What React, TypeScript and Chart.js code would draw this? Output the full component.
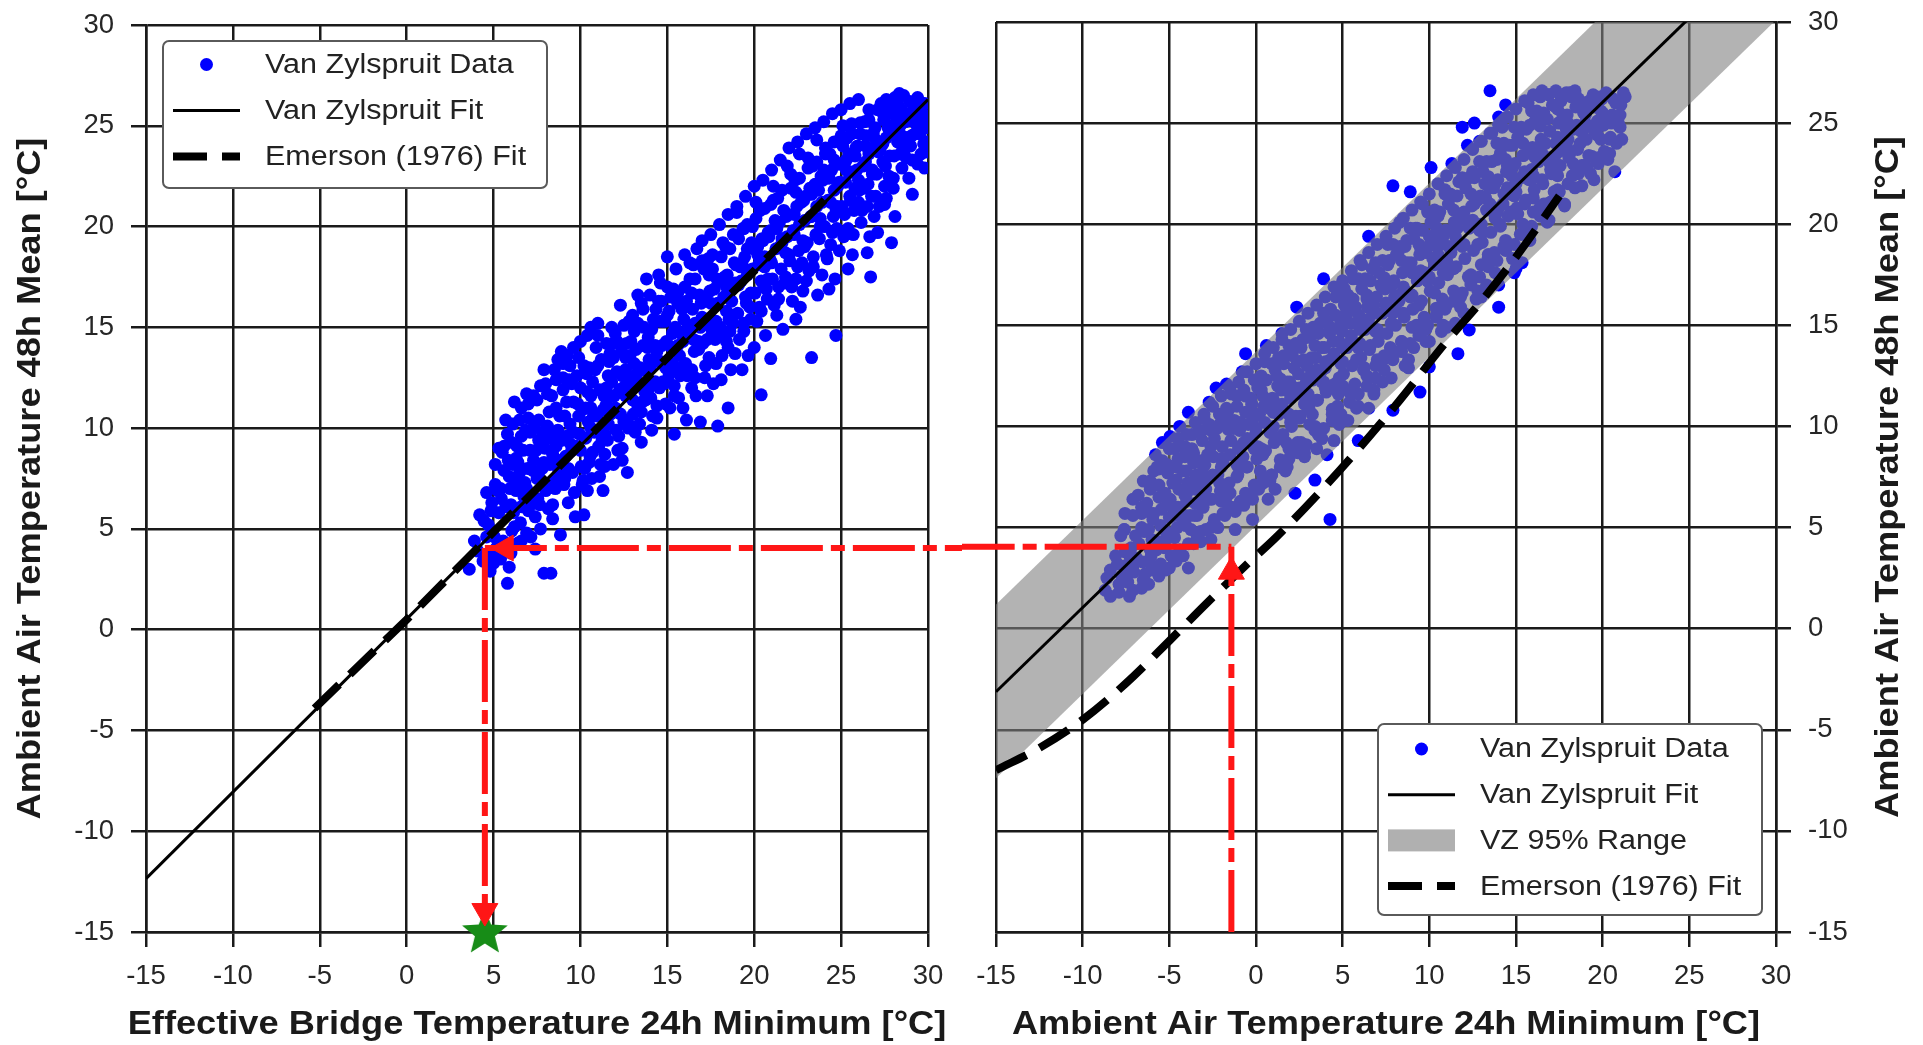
import { useEffect, useRef } from 'react';
import { Chart, registerables } from 'chart.js';

Chart.register(...registerables);

const FONT = '"Liberation Sans", Arial, Helvetica, sans-serif';
const INK = '#1a1a1a';
const TICK_INK = '#262626';
const DATA_BLUE = '#0000ff';
const TRACE_RED = '#ff1616';
const STAR_GREEN = '#178c17';
const BAND_FILL = 'rgba(128, 128, 128, 0.6)';
const BAND_SWATCH = '#b0b0b0';

const AXIS_MIN = -15;
const AXIS_MAX = 30;
const AXIS_STEP = 5;

const LEFT_X_TITLE = 'Effective Bridge Temperature 24h Minimum [°C]';
const RIGHT_X_TITLE = 'Ambient Air Temperature 24h Minimum [°C]';
const Y_TITLE = 'Ambient Air Temperature 48h Mean [°C]';

const LEGEND_DATA = 'Van Zylspruit Data';
const LEGEND_FIT = 'Van Zylspruit Fit';
const LEGEND_BAND = 'VZ 95% Range';
const LEGEND_EMERSON = 'Emerson (1976) Fit';

type Pt = [number, number];

// Van Zylspruit: effective bridge temperature 24h min vs ambient 48h mean
const leftPoints: Pt[] = [
  [3.6, 3.0], [3.9, 4.4], [4.2, 5.7], [4.4, 3.4], [4.1, 3.9], [4.6, 4.6],
  [4.7, 5.2], [4.9, 6.3], [5.1, 8.2], [5.2, 4.1], [5.0, 3.3], [5.4, 7.0], [5.3, 5.8], [4.8, 2.9],
  [5.6, 9.1], [5.8, 9.7], [5.9, 7.6], [6.0, 6.2], [6.2, 5.1], [5.8, 2.3], [5.9, 3.1], [6.3, 8.5], [6.1, 10.2], [6.4, 4.3], [6.0, 3.8],
  [6.6, 11.0], [6.7, 8.9], [6.8, 7.3], [7.0, 5.9], [7.1, 9.8], [7.2, 6.6], [6.9, 4.8], [7.4, 4.0], [7.3, 11.6], [7.0, 10.5], [6.6, 6.1],
  [7.7, 12.1], [7.9, 12.9], [7.6, 9.4], [7.8, 8.0], [8.0, 6.9], [8.2, 10.8], [8.3, 2.8], [7.9, 2.8], [8.4, 5.5], [8.1, 11.7], [8.4, 8.7], [7.7, 5.0],
  [8.6, 12.4], [8.85, 4.7], [8.7, 9.9], [9.0, 13.2], [9.1, 7.5], [9.2, 11.3], [9.3, 6.3], [9.4, 10.2], [8.9, 8.4], [9.24, 13.6], [9.5, 8.9], [9.0, 11.9],
  [9.7, 5.6], [9.8, 12.6], [10.0, 14.3], [10.2, 5.7], [10.1, 7.2], [10.3, 9.5], [10.4, 11.8], [9.9, 10.6], [10.2, 13.1], [10.5, 8.3], [9.6, 14.0], [10.0, 8.9], [10.4, 6.9],
  [10.7, 12.3], [11.0, 14.6], [10.8, 9.8], [11.1, 7.6], [11.3, 10.9], [11.2, 13.4], [11.4, 8.7], [10.6, 11.0], [11.5, 12.0], [11.0, 15.2], [11.3, 6.9],
  [11.9, 8.2], [12.3, 16.1], [11.7, 13.7], [12.0, 11.0], [12.2, 9.6], [12.4, 12.6], [11.8, 15.0], [12.5, 10.3], [12.1, 14.3], [12.4, 8.4], [11.6, 10.2],
  [12.7, 7.8], [13.0, 11.4], [13.2, 13.9], [13.5, 9.3], [12.8, 15.3], [13.4, 12.2], [13.3, 16.6], [12.9, 10.1], [13.1, 14.8], [13.5, 10.8], [12.6, 12.9],
  [13.8, 17.4], [13.7, 11.8], [14.0, 13.0], [14.2, 15.4], [14.4, 10.5], [13.9, 14.5], [14.3, 12.3], [14.5, 16.3], [14.1, 9.9], [13.6, 15.9], [14.4, 13.8],
  [15.0, 18.5], [14.7, 14.1], [15.1, 12.7], [15.4, 9.7], [15.2, 16.5], [14.9, 11.2], [15.5, 14.9], [15.3, 13.2], [14.6, 17.2], [15.0, 15.6], [15.4, 11.6],
  [15.7, 13.6], [16.0, 17.0], [16.2, 15.1], [16.4, 12.0], [15.9, 11.0], [16.3, 18.2], [15.6, 16.2], [16.5, 14.4], [16.1, 10.4], [16.4, 16.7], [15.8, 14.7],
  [16.7, 18.9], [16.9, 10.3], [17.0, 15.5], [17.2, 13.1], [17.4, 17.6], [16.6, 12.5], [17.1, 16.4], [17.3, 11.6], [16.8, 14.3], [17.5, 15.0], [17.0, 18.3],
  [17.9, 10.1], [18.5, 11.0], [17.7, 16.9], [18.0, 14.6], [18.2, 19.2], [18.4, 15.8], [17.8, 13.2], [18.3, 17.5], [18.1, 12.4], [17.6, 18.6], [18.5, 14.0],
  [19.0, 20.7], [18.7, 16.3], [18.9, 13.7], [19.2, 18.0], [19.4, 15.2], [18.8, 19.6], [19.3, 12.9], [19.1, 17.1], [19.5, 16.5], [18.6, 14.8], [19.4, 19.9],
  [20.0, 14.0], [20.4, 11.65], [19.7, 17.8], [19.9, 20.0], [20.2, 18.6], [20.3, 16.0], [19.8, 15.4], [20.1, 21.2], [20.5, 19.3], [19.6, 18.9], [20.4, 17.3],
  [20.96, 21.1], [20.95, 13.45], [20.7, 16.9], [21.0, 18.2], [21.2, 20.3], [21.4, 17.0], [20.8, 19.7], [21.3, 15.6], [21.1, 22.0], [21.5, 19.0], [20.6, 18.0],
  [21.9, 23.0], [21.7, 20.8], [22.0, 18.6], [22.2, 16.3], [22.4, 21.7], [21.8, 17.5], [22.3, 19.6], [22.1, 22.6], [22.5, 18.0], [21.6, 19.2], [22.4, 15.4],
  [23.3, 13.5], [22.7, 21.2], [22.9, 19.0], [23.1, 23.4], [23.3, 20.5], [23.0, 17.3], [23.5, 22.1], [22.6, 23.6], [23.4, 18.5], [22.8, 16.8], [23.2, 21.9],
  [23.6, 24.3], [24.7, 14.6], [23.8, 20.0], [24.0, 22.8], [24.2, 18.4], [24.4, 21.2], [23.9, 17.6], [24.1, 23.9], [24.5, 19.7], [23.7, 21.8], [24.3, 16.9],
  [25.4, 17.9], [24.8, 22.0], [25.0, 24.5], [25.2, 20.6], [24.6, 23.3], [25.3, 22.8], [24.9, 18.8], [25.5, 21.5], [25.1, 25.0], [24.7, 20.9],
  [26.1, 25.15], [25.7, 19.6], [26.0, 22.3], [26.2, 20.8], [26.4, 24.0], [25.8, 23.5], [26.3, 21.9], [26.5, 18.7], [25.6, 24.6], [26.0, 21.2],
  [26.7, 17.5], [27.3, 26.1], [26.8, 22.6], [27.0, 24.3], [27.2, 21.0], [27.4, 23.2], [26.6, 25.3], [27.1, 19.7], [26.9, 23.9], [27.5, 22.0],
  [27.9, 19.2], [28.35, 26.6], [27.7, 24.9], [28.0, 22.4], [28.2, 25.4], [28.4, 23.6], [27.6, 21.4], [28.1, 20.5], [28.5, 24.5], [27.8, 26.0],
  [28.9, 22.4], [29.4, 26.4], [28.7, 25.2], [29.0, 24.0], [29.2, 25.9], [29.4, 23.1], [28.6, 23.7], [29.1, 21.6], [29.5, 24.8],
  [29.9, 24.2], [29.7, 25.6], [29.8, 22.9], [30.0, 24.9], [29.6, 26.0],
  [6.3, 6.9], [6.5, 7.8], [7.5, 7.5], [7.3, 8.4], [8.5, 7.4], [8.6, 9.1], [8.2, 9.5], [9.6, 9.8], [9.3, 8.0],
  [10.6, 10.0], [10.3, 11.0], [10.7, 8.8], [11.6, 11.5], [11.4, 9.7], [11.8, 12.3], [12.6, 11.6], [12.3, 10.7], [12.8, 12.2],
  [13.6, 12.9], [13.3, 11.1], [13.9, 11.9], [14.6, 13.3], [14.8, 12.2], [14.3, 14.1], [15.6, 14.1], [15.8, 13.0], [15.3, 14.7],
  [16.6, 15.2], [16.8, 13.9], [16.3, 14.9], [17.5, 16.2], [17.8, 15.3], [17.3, 14.4], [18.6, 16.9], [18.8, 15.6], [18.4, 17.0],
  [19.6, 17.6], [19.8, 16.7], [19.3, 18.2], [20.6, 18.5], [20.8, 17.4], [20.2, 19.0], [21.6, 19.4], [21.8, 18.7], [21.3, 19.9],
  [22.6, 20.1], [22.8, 19.3], [22.3, 20.6], [23.6, 21.0], [23.8, 20.4], [23.3, 21.6], [24.6, 21.8], [24.8, 21.0], [24.3, 22.4],
  [25.6, 22.7], [25.8, 21.9], [25.3, 23.3], [26.6, 23.6], [26.8, 22.8], [27.6, 24.4], [27.8, 23.5], [28.6, 25.3], [28.8, 24.4],
  [29.6, 25.0], [29.3, 26.0],
  [4.55, 3.6], [4.45, 5.4], [4.6, 6.8], [5.05, 4.6], [4.95, 5.9], [5.1, 7.2], [5.0, 3.9],
  [5.55, 4.4], [5.45, 6.5], [5.6, 7.9], [5.5, 8.8], [5.4, 3.5], [6.05, 4.9], [5.95, 7.0], [6.1, 8.2], [6.0, 9.3], [6.15, 5.8],
  [6.55, 5.3], [6.45, 7.3], [6.6, 9.6], [6.5, 10.4], [6.4, 8.3], [6.6, 4.4], [7.05, 6.1], [6.95, 8.0], [7.1, 8.9], [7.0, 11.2], [6.9, 7.0], [7.15, 4.6],
  [7.55, 6.5], [7.45, 8.9], [7.6, 10.4], [7.5, 11.4], [7.4, 5.6], [7.6, 7.6], [8.05, 7.0], [7.95, 9.0], [8.1, 10.1], [8.0, 12.2], [8.15, 6.0], [7.9, 8.3],
  [8.55, 7.0], [8.45, 9.7], [8.6, 11.0], [8.5, 12.9], [8.4, 6.2], [8.65, 8.4], [9.05, 7.2], [8.95, 9.4], [9.1, 10.6], [9.0, 12.5], [9.15, 8.6], [8.9, 13.8],
  [9.55, 7.8], [9.45, 9.2], [9.6, 11.3], [9.5, 12.2], [9.4, 13.1], [9.65, 6.8], [10.05, 8.1], [9.95, 9.7], [10.1, 10.9], [10.0, 12.0], [10.15, 7.4], [9.9, 13.5],
  [10.55, 8.6], [10.45, 10.3], [10.6, 11.6], [10.5, 13.0], [10.4, 14.6], [10.65, 7.5], [11.05, 9.1], [10.95, 10.6], [11.1, 11.9], [11.0, 13.1], [11.15, 8.2], [10.9, 14.0],
  [11.55, 9.4], [11.45, 11.1], [11.6, 12.6], [11.5, 14.2], [11.4, 8.1], [11.65, 13.3], [12.05, 9.9], [11.95, 11.6], [12.1, 12.8], [12.0, 14.7], [12.15, 8.9], [11.9, 13.5],
  [12.55, 10.4], [12.45, 12.0], [12.6, 13.5], [12.5, 15.1], [12.4, 9.0], [12.65, 14.2], [13.05, 10.7], [12.95, 12.5], [13.1, 13.2], [13.0, 15.6], [13.15, 9.8], [12.9, 14.3],
  [13.55, 11.3], [13.45, 13.0], [13.6, 14.1], [13.5, 16.2], [13.4, 10.2], [13.65, 15.0], [14.05, 11.5], [13.95, 13.4], [14.1, 14.9], [14.0, 16.6], [14.15, 10.6], [13.9, 12.2],
  [14.55, 12.0], [14.45, 14.0], [14.6, 15.3], [14.5, 17.6], [14.4, 11.1], [14.65, 16.3], [15.05, 12.4], [14.95, 14.3], [15.1, 15.8], [15.0, 17.0], [15.15, 11.0], [14.9, 13.0],
  [15.55, 12.8], [15.45, 15.0], [15.6, 16.7], [15.5, 17.9], [15.4, 12.1], [15.65, 11.5], [16.05, 13.2], [15.95, 15.4], [16.1, 16.3], [16.0, 18.6], [16.15, 12.6], [15.9, 14.3],
  [16.55, 13.8], [16.45, 15.9], [16.6, 17.4], [16.5, 18.1], [16.4, 12.9], [16.65, 11.6], [17.05, 14.2], [16.95, 16.2], [17.1, 17.9], [17.0, 19.3], [17.15, 12.5], [16.9, 15.0],
  [17.55, 14.6], [17.45, 16.8], [17.6, 17.9], [17.5, 19.6], [17.4, 13.5], [17.65, 12.2], [18.05, 15.0], [17.95, 17.3], [18.1, 18.5], [18.0, 20.1], [18.15, 13.6], [17.9, 16.2],
  [18.55, 15.4], [18.45, 17.6], [18.6, 18.9], [18.5, 20.6], [18.4, 14.3], [18.65, 12.9], [19.05, 15.7], [18.95, 18.1], [19.1, 19.4], [19.0, 21.0], [19.15, 14.4], [18.9, 17.2],
  [19.55, 16.2], [19.45, 18.5], [19.6, 20.1], [19.5, 21.5], [19.4, 14.8], [19.65, 13.6], [20.05, 16.7], [19.95, 18.9], [20.1, 20.4], [20.0, 22.0], [20.15, 15.3], [19.9, 17.9],
  [20.55, 17.0], [20.45, 19.4], [20.6, 20.9], [20.5, 22.3], [20.4, 15.8], [20.65, 14.6], [21.05, 17.4], [20.95, 19.8], [21.1, 21.3], [21.0, 22.8], [21.15, 16.1], [20.9, 18.4],
  [21.55, 17.9], [21.45, 20.2], [21.6, 21.8], [21.5, 23.3], [21.4, 16.4], [21.65, 14.9], [22.05, 18.3], [21.95, 20.6], [22.1, 21.9], [22.0, 23.9], [22.15, 17.0], [21.9, 19.5],
  [22.55, 18.8], [22.45, 21.0], [22.6, 22.4], [22.5, 24.2], [22.4, 17.4], [22.65, 16.0], [23.05, 19.2], [22.95, 21.5], [23.1, 22.9], [23.0, 24.6], [23.15, 17.8], [22.9, 20.3],
  [23.55, 19.6], [23.45, 22.0], [23.6, 23.2], [23.5, 24.9], [23.4, 18.0], [23.65, 16.6], [24.05, 20.0], [23.95, 22.3], [24.1, 23.6], [24.0, 25.2], [24.15, 18.6], [23.9, 21.2],
  [24.55, 20.5], [24.45, 22.8], [24.6, 24.2], [24.5, 25.6], [24.4, 19.1], [24.65, 17.4], [25.05, 21.0], [24.95, 23.1], [25.1, 24.0], [25.0, 25.8], [25.15, 19.5], [24.9, 22.2],
  [25.55, 21.3], [25.45, 23.6], [25.6, 25.1], [25.5, 26.1], [25.4, 19.9], [25.65, 18.6], [26.05, 21.8], [25.95, 24.0], [26.1, 24.6], [26.0, 26.3], [26.15, 20.2], [25.9, 22.8],
  [26.55, 22.1], [26.45, 24.5], [26.6, 25.8], [26.5, 21.0], [26.4, 23.2], [26.65, 19.5], [27.05, 22.6], [26.95, 24.9], [27.1, 25.8], [27.0, 21.5], [27.15, 23.7], [26.9, 20.5],
  [27.55, 23.0], [27.45, 25.3], [27.6, 26.3], [27.5, 21.1], [27.4, 24.1], [28.05, 23.5], [27.95, 25.6], [28.1, 26.4], [28.0, 21.9], [28.15, 24.6],
  [28.55, 23.9], [28.45, 25.8], [28.6, 26.5], [28.5, 22.9], [28.4, 25.0], [29.05, 24.5], [28.95, 26.2], [29.1, 23.3], [29.0, 25.4],
  [29.55, 24.6], [29.45, 25.6], [29.6, 23.6], [29.5, 26.2], [29.9, 25.2], [29.95, 23.7],
  [4.85, 5.9], [5.25, 6.9], [5.7, 6.1], [5.85, 8.4], [6.25, 7.4], [6.35, 9.1], [6.75, 6.6], [6.85, 9.9], [7.25, 7.9], [7.35, 10.1],
  [7.65, 6.2], [7.8, 9.8], [8.25, 8.2], [8.35, 11.6], [8.75, 7.9], [8.8, 10.6], [9.2, 9.6], [9.35, 12.4], [9.75, 9.1], [9.85, 11.2],
  [10.25, 8.0], [10.35, 12.7], [10.75, 10.6], [10.85, 12.9], [11.25, 9.4], [11.35, 11.6], [11.75, 10.7], [11.85, 14.2], [12.25, 11.9], [12.35, 13.8],
  [12.75, 10.0], [12.85, 13.6], [13.25, 12.7], [13.3, 15.2], [13.75, 11.4], [13.85, 14.0], [14.25, 13.3], [14.35, 15.9], [14.75, 12.3], [14.85, 15.3],
  [15.25, 14.0], [15.35, 16.9], [15.75, 12.6], [15.85, 15.9], [16.25, 14.5], [16.3, 17.4], [16.75, 14.0], [16.85, 16.6], [17.25, 15.4], [17.35, 18.4],
  [17.75, 14.4], [17.85, 17.4], [18.25, 16.5], [18.35, 19.0], [18.75, 15.2], [18.85, 18.2], [19.25, 17.3], [19.35, 19.9], [19.75, 16.0], [19.85, 19.2],
  [20.25, 18.1], [20.35, 20.8], [20.75, 16.4], [20.85, 19.5], [21.25, 18.9], [21.35, 21.4], [21.75, 17.2], [21.85, 20.5], [22.25, 19.8], [22.35, 22.3],
  [22.75, 18.2], [22.85, 21.3], [23.25, 20.5], [23.35, 23.0], [23.75, 19.4], [23.85, 22.5], [24.25, 21.3], [24.35, 23.6], [24.75, 19.9], [24.85, 23.1],
  [25.25, 22.2], [25.35, 24.4], [25.75, 20.8], [25.85, 23.9], [26.25, 23.0], [26.35, 25.2], [26.75, 21.5], [26.85, 24.6], [27.25, 23.8], [27.35, 25.7],
  [27.75, 22.5], [27.85, 25.0], [28.25, 24.2], [28.3, 26.0], [28.75, 23.4], [28.85, 25.6], [29.25, 24.6], [29.3, 25.1], [29.75, 24.1], [29.8, 26.1],
  [5.3, 9.0], [5.7, 10.4], [6.2, 11.3], [6.9, 11.7], [8.7, 13.4], [10.6, 15.0],
];

// Van Zylspruit: ambient 24h min vs ambient 48h mean
const rightPoints: Pt[] = [
  [-8.7, 1.9], [-8.4, 1.6], [-8.4, 2.9], [-8.1, 3.6], [-8.6, 2.5],
  [-7.9, 2.2], [-7.6, 3.1], [-7.4, 2.3], [-7.56, 5.7], [-7.2, 4.0], [-7.8, 4.6], [-7.1, 1.9],
  [-6.9, 3.5], [-6.6, 5.0], [-6.4, 2.7], [-6.1, 3.2], [-6.3, 6.2], [-6.8, 6.6], [-6.0, 4.4], [-6.5, 7.3],
  [-5.9, 5.7], [-5.6, 7.9], [-5.3, 4.0], [-5.1, 6.1], [-5.8, 8.6], [-5.4, 9.2], [-5.0, 3.0], [-4.96, 9.5], [-5.5, 5.1],
  [-4.8, 7.2], [-4.5, 8.4], [-4.2, 5.3], [-4.4, 10.0], [-4.1, 6.6], [-4.7, 4.5], [-4.3, 9.0], [-4.0, 7.8], [-4.6, 6.0],
  [-3.9, 10.7], [-3.9, 3.0], [-3.7, 8.9], [-3.5, 6.2], [-3.3, 9.8], [-3.2, 4.8], [-3.6, 7.3], [-3.0, 10.4], [-3.4, 5.6], [-3.1, 8.1],
  [-2.9, 6.9], [-2.7, 11.2], [-2.5, 5.1], [-2.4, 9.4], [-2.2, 7.6], [-2.8, 8.6], [-2.1, 10.6], [-2.6, 4.4], [-2.0, 6.3], [-2.3, 11.9],
  [-1.9, 8.2], [-1.7, 12.1], [-1.5, 6.7], [-1.3, 9.9], [-1.2, 4.9], [-1.6, 10.8], [-1.1, 7.5], [-1.8, 5.6], [-1.4, 11.6], [-1.0, 8.9],
  [-0.6, 13.6], [-0.9, 10.2], [-0.7, 6.1], [-0.5, 8.0], [-0.3, 11.4], [-0.2, 5.4], [-0.8, 12.7], [-0.4, 9.3], [-0.1, 7.1], [0.0, 12.3],
  [0.2, 10.6], [0.4, 8.6], [0.5, 13.2], [0.7, 6.4], [0.3, 11.8], [0.8, 9.7], [0.6, 14.0], [0.9, 7.6], [0.1, 9.0], [1.0, 11.3],
  [1.2, 12.5], [1.4, 9.4], [1.5, 14.6], [1.7, 7.8], [1.3, 10.9], [1.8, 11.8], [1.6, 13.5], [1.9, 8.9], [1.1, 6.9], [2.0, 10.2],
  [2.35, 15.9], [2.25, 6.7], [2.2, 12.9], [2.5, 10.4], [2.7, 14.3], [2.8, 8.5], [2.4, 11.6], [2.9, 12.2], [2.6, 9.2], [2.1, 13.8], [3.0, 10.9],
  [3.4, 7.35], [3.9, 17.3], [3.2, 13.4], [3.5, 11.3], [3.7, 15.1], [3.6, 9.6], [3.3, 12.3], [3.8, 13.9], [3.1, 10.1], [4.0, 11.9], [3.5, 16.0],
  [4.27, 5.4], [4.2, 14.7], [4.4, 10.6], [4.6, 16.4], [4.8, 12.4], [4.5, 9.3], [4.3, 13.3], [4.9, 15.2], [4.7, 11.0], [5.0, 13.9], [4.1, 8.6],
  [5.9, 9.3], [5.2, 15.6], [5.4, 11.7], [5.6, 17.3], [5.8, 13.3], [5.3, 10.3], [5.5, 14.5], [5.7, 12.1], [5.1, 16.8], [6.0, 15.0], [5.9, 11.0],
  [6.5, 19.4], [6.2, 12.8], [6.4, 16.3], [6.6, 14.0], [6.8, 11.6], [6.3, 15.2], [6.7, 17.8], [6.9, 13.0], [6.1, 18.0], [7.0, 15.6], [6.5, 10.9],
  [7.9, 21.9], [7.9, 10.8], [7.2, 17.0], [7.4, 13.5], [7.6, 19.0], [7.8, 15.1], [7.3, 12.2], [7.5, 16.1], [7.7, 18.2], [7.1, 14.6], [8.0, 13.7],
  [8.9, 21.6], [8.2, 18.6], [8.4, 14.2], [8.6, 16.7], [8.8, 12.9], [8.3, 20.1], [8.5, 15.6], [8.7, 19.2], [8.1, 16.4], [9.0, 17.6], [8.6, 13.0],
  [9.46, 11.7], [9.2, 19.8], [9.4, 16.0], [9.6, 21.0], [9.8, 14.8], [9.3, 17.6], [9.5, 18.8], [9.7, 15.4], [9.1, 13.9], [10.0, 19.4], [9.9, 17.2],
  [10.1, 22.8], [10.0, 12.95], [10.3, 16.6], [10.5, 20.4], [10.7, 14.7], [10.2, 18.3], [10.9, 21.7], [10.4, 15.5], [10.6, 19.0], [10.8, 17.6], [11.0, 16.0],
  [11.9, 24.8], [11.65, 13.6], [11.2, 21.5], [11.4, 17.8], [11.6, 19.8], [11.8, 16.4], [11.3, 23.0], [11.5, 15.1], [11.7, 22.1], [11.1, 18.9], [12.0, 20.6],
  [12.3, 14.77], [12.2, 23.9], [12.4, 17.1], [12.6, 21.0], [12.8, 19.0], [12.5, 22.6], [12.7, 16.3], [12.9, 24.1], [12.1, 20.2], [13.0, 18.0], [12.6, 25.0],
  [13.5, 26.6], [14.0, 15.9], [13.2, 22.0], [13.4, 18.5], [13.6, 24.5], [13.8, 20.3], [13.3, 17.0], [13.7, 21.8], [13.9, 23.2], [13.1, 19.6], [14.0, 25.3],
  [14.3, 18.9], [14.5, 22.9], [14.7, 20.6], [14.2, 24.8], [14.9, 17.6], [14.4, 25.9], [14.6, 21.5], [14.8, 23.9], [14.1, 19.9], [15.0, 22.0],
  [15.35, 18.1], [15.2, 24.6], [15.5, 21.0], [15.7, 26.0], [15.9, 22.7], [15.4, 23.4], [15.6, 19.5], [15.8, 24.9], [15.1, 20.5], [16.0, 21.3],
  [16.2, 25.6], [16.5, 22.2], [16.7, 24.0], [16.9, 20.2], [16.4, 26.3], [16.6, 21.0], [16.8, 25.2], [16.1, 23.3], [17.0, 22.7],
  [17.3, 26.6], [17.5, 23.6], [17.7, 25.4], [17.2, 21.6], [17.9, 24.3], [17.4, 22.4], [17.6, 26.1], [17.8, 20.9], [18.0, 25.0],
  [18.3, 24.7], [18.6, 26.2], [18.8, 22.9], [18.4, 21.8], [18.9, 25.5], [18.1, 23.5], [18.7, 24.0],
  [19.2, 23.4], [19.4, 25.9], [19.7, 24.4], [19.5, 22.2], [19.9, 26.3], [19.1, 24.9], [19.8, 23.3],
  [20.5, 25.0], [20.2, 26.5], [20.8, 24.0], [21.2, 26.5], [20.4, 23.5], [21.0, 25.4], [21.3, 26.3], [20.7, 22.6],
  [-6.2, 4.9], [-5.0, 5.5], [-5.2, 4.8], [-4.0, 6.3], [-3.8, 5.6], [-3.0, 7.2], [-2.7, 6.4], [-2.0, 8.0], [-1.7, 7.1],
  [-1.0, 8.0], [-0.7, 9.2], [0.0, 9.7], [0.3, 8.9], [-0.2, 10.3], [1.0, 10.0], [1.3, 10.6], [0.8, 11.1],
  [2.0, 11.4], [2.3, 10.5], [1.8, 12.2], [3.0, 11.6], [3.2, 12.5], [2.8, 11.1], [4.0, 12.9], [4.3, 12.0], [3.8, 12.2],
  [5.0, 13.2], [5.3, 14.0], [4.8, 14.2], [6.0, 14.1], [6.3, 14.8], [5.8, 15.1], [7.0, 14.8], [7.3, 15.6], [6.8, 16.0],
  [8.0, 15.8], [8.3, 16.5], [7.8, 16.9], [9.0, 16.5], [9.3, 17.2], [8.8, 17.8], [10.0, 17.4], [10.3, 18.0], [9.8, 18.6],
  [11.0, 18.2], [11.3, 18.9], [10.8, 19.4], [12.0, 19.0], [12.3, 19.8], [11.8, 20.3], [13.0, 20.0], [13.3, 20.7], [12.8, 21.2],
  [14.0, 20.8], [14.3, 21.5], [13.8, 22.0], [15.0, 21.6], [15.3, 22.3], [14.8, 22.8], [16.0, 22.4], [16.3, 23.1], [15.8, 23.6],
  [17.0, 23.3], [17.3, 24.0], [18.0, 24.2], [18.3, 23.0], [19.0, 25.0], [20.0, 25.5],
  [-8.0, 3.2], [-7.9, 1.8], [-7.55, 3.8], [-7.45, 2.7], [-7.6, 4.9], [-7.05, 2.8], [-6.95, 4.6], [-7.1, 5.6], [-7.0, 3.4],
  [-6.55, 3.3], [-6.45, 4.8], [-6.6, 6.0], [-6.5, 2.4], [-6.05, 3.6], [-5.95, 5.4], [-6.1, 6.9], [-6.0, 2.9], [-5.9, 7.8],
  [-5.55, 4.3], [-5.45, 5.9], [-5.6, 7.1], [-5.5, 3.2], [-5.4, 8.3], [-5.05, 4.5], [-4.95, 6.4], [-5.1, 7.7], [-5.0, 8.9], [-4.9, 3.6],
  [-4.55, 5.0], [-4.45, 6.9], [-4.6, 8.0], [-4.5, 9.4], [-4.4, 3.9], [-4.5, 6.0], [-4.05, 5.1], [-3.95, 7.2], [-4.1, 8.5], [-4.0, 9.6], [-3.9, 4.2], [-4.0, 6.7],
  [-3.55, 5.6], [-3.45, 7.6], [-3.6, 8.7], [-3.5, 10.2], [-3.4, 4.6], [-3.5, 6.9], [-3.05, 6.0], [-2.95, 8.1], [-3.1, 9.3], [-3.0, 10.6], [-2.9, 4.9], [-3.0, 7.6],
  [-2.55, 6.4], [-2.45, 8.5], [-2.6, 9.8], [-2.5, 11.0], [-2.4, 5.4], [-2.5, 7.6], [-2.05, 6.8], [-1.95, 9.0], [-2.1, 10.1], [-2.0, 11.5], [-1.9, 5.7], [-2.0, 8.4],
  [-1.55, 7.2], [-1.45, 9.3], [-1.6, 10.4], [-1.5, 11.9], [-1.4, 6.0], [-1.5, 8.6], [-1.05, 7.6], [-0.95, 9.8], [-1.1, 11.0], [-1.0, 12.2], [-0.9, 6.3], [-1.0, 9.0],
  [-0.55, 8.0], [-0.45, 10.1], [-0.6, 11.5], [-0.5, 12.7], [-0.4, 6.6], [-0.5, 9.4], [0.05, 8.4], [-0.05, 10.6], [0.1, 11.9], [0.0, 13.1], [0.15, 6.9], [0.0, 9.9],
  [0.55, 8.8], [0.45, 11.0], [0.6, 12.3], [0.5, 13.6], [0.4, 7.2], [0.5, 10.2], [1.05, 9.2], [0.95, 11.4], [1.1, 12.8], [1.0, 13.9], [0.9, 7.6], [1.0, 10.7],
  [1.55, 9.6], [1.45, 11.8], [1.6, 13.1], [1.5, 14.3], [1.4, 8.0], [1.5, 11.1], [2.05, 10.0], [1.95, 12.2], [2.1, 13.5], [2.0, 14.8], [1.9, 8.4], [2.0, 11.6],
  [2.55, 10.5], [2.45, 12.6], [2.6, 13.9], [2.5, 15.2], [2.4, 8.7], [2.5, 11.9], [3.05, 10.9], [2.95, 13.0], [3.1, 14.4], [3.0, 15.6], [2.9, 9.1], [3.0, 12.4],
  [3.55, 11.3], [3.45, 13.4], [3.6, 14.6], [3.5, 8.9], [3.4, 9.8], [3.5, 12.8], [4.05, 11.7], [3.95, 13.9], [4.1, 15.2], [4.0, 16.4], [3.9, 9.9], [4.0, 13.2],
  [4.55, 12.1], [4.45, 14.2], [4.6, 15.5], [4.5, 16.9], [4.4, 10.3], [4.5, 13.6], [5.05, 12.6], [4.95, 14.7], [5.1, 16.0], [5.0, 17.2], [4.9, 10.6], [5.0, 12.0],
  [5.55, 13.0], [5.45, 15.1], [5.6, 16.3], [5.5, 17.7], [5.4, 11.2], [5.5, 14.3], [6.05, 13.4], [5.95, 15.5], [6.1, 16.8], [6.0, 18.2], [5.9, 11.6], [6.0, 14.8],
  [6.55, 13.8], [6.45, 15.9], [6.6, 17.2], [6.5, 18.6], [6.4, 12.0], [6.5, 15.3], [7.05, 14.2], [6.95, 16.4], [7.1, 17.6], [7.0, 19.0], [6.9, 12.4], [7.0, 13.3],
  [7.55, 14.6], [7.45, 16.8], [7.6, 18.0], [7.5, 19.4], [7.4, 12.8], [7.5, 16.0], [8.05, 15.0], [7.95, 17.2], [8.1, 18.5], [8.0, 19.8], [7.9, 13.3], [8.0, 16.4],
  [8.55, 15.4], [8.45, 17.6], [8.6, 18.9], [8.5, 20.3], [8.4, 13.7], [8.5, 16.9], [9.05, 15.8], [8.95, 18.1], [9.1, 19.3], [9.0, 20.7], [8.9, 14.1], [9.0, 14.9],
  [9.55, 16.2], [9.45, 18.5], [9.6, 19.7], [9.5, 21.1], [9.4, 14.5], [9.5, 17.7], [10.05, 16.7], [9.95, 18.9], [10.1, 20.1], [10.0, 21.5], [9.9, 15.0], [10.0, 14.2],
  [10.55, 17.1], [10.45, 19.3], [10.6, 20.6], [10.5, 22.0], [10.4, 15.4], [10.5, 18.5], [11.05, 17.5], [10.95, 19.7], [11.1, 21.0], [11.0, 22.4], [10.9, 15.8], [11.0, 14.9],
  [11.55, 17.9], [11.45, 20.1], [11.6, 21.4], [11.5, 22.8], [11.4, 16.2], [11.5, 19.4], [12.05, 18.3], [11.95, 20.5], [12.1, 21.8], [12.0, 23.2], [11.9, 16.6], [12.0, 15.6],
  [12.55, 18.7], [12.45, 20.9], [12.6, 22.3], [12.5, 23.7], [12.4, 17.0], [12.5, 20.2], [13.05, 19.1], [12.95, 21.4], [13.1, 22.6], [13.0, 24.1], [12.9, 17.4], [13.0, 16.4],
  [13.55, 19.6], [13.45, 21.8], [13.6, 23.1], [13.5, 24.5], [13.4, 17.9], [13.5, 21.0], [14.05, 20.0], [13.95, 22.2], [14.1, 23.5], [14.0, 24.9], [13.9, 18.2], [14.0, 17.0],
  [14.55, 20.4], [14.45, 22.6], [14.6, 23.9], [14.5, 25.3], [14.4, 18.7], [14.5, 21.8], [15.05, 20.8], [14.95, 23.0], [15.1, 24.3], [15.0, 25.7], [14.9, 19.0], [15.0, 17.8],
  [15.55, 21.2], [15.45, 23.4], [15.6, 24.7], [15.5, 26.1], [15.4, 19.5], [15.5, 22.6], [16.05, 21.7], [15.95, 23.8], [16.1, 25.1], [16.0, 26.4], [15.9, 19.9], [16.0, 20.6],
  [16.55, 22.0], [16.45, 24.2], [16.6, 25.5], [16.5, 26.6], [16.4, 20.4], [16.5, 23.5], [17.05, 22.5], [16.95, 24.6], [17.1, 25.9], [17.0, 21.1], [16.9, 26.4],
  [17.55, 22.9], [17.45, 25.0], [17.6, 26.3], [17.5, 21.6], [17.4, 24.3], [18.05, 23.3], [17.95, 25.4], [18.1, 26.5], [18.0, 22.0], [17.9, 24.7],
  [18.55, 23.7], [18.45, 25.8], [18.6, 22.5], [18.5, 24.9], [18.4, 26.6], [19.05, 24.2], [18.95, 26.0], [19.1, 22.8], [19.0, 25.4],
  [19.55, 24.6], [19.45, 26.4], [19.6, 23.2], [19.5, 25.8], [20.05, 24.9], [19.95, 26.2], [20.1, 23.6],
  [20.55, 25.4], [20.45, 24.3], [20.6, 26.2], [21.05, 25.9], [21.0, 24.8],
  [-7.75, 2.6], [-7.25, 3.5], [-6.75, 4.2], [-6.25, 5.8], [-5.75, 3.9], [-5.25, 6.7], [-4.75, 5.6], [-4.25, 7.8], [-3.75, 4.9], [-3.25, 8.3],
  [-2.75, 7.4], [-2.25, 9.9], [-1.75, 6.4], [-1.25, 10.3], [-0.75, 8.5], [-0.25, 11.1], [0.25, 7.8], [0.75, 10.9], [1.25, 12.0], [1.75, 9.2],
  [2.25, 11.9], [2.75, 13.3], [3.25, 10.6], [3.75, 12.7], [4.25, 14.6], [4.75, 11.6], [5.25, 13.9], [5.75, 15.9], [6.25, 12.9], [6.75, 15.6],
  [7.25, 16.9], [7.75, 13.9], [8.25, 16.2], [8.75, 18.1], [9.25, 15.0], [9.75, 17.6], [10.25, 19.0], [10.75, 16.3], [11.25, 18.6], [11.75, 20.4],
  [12.25, 17.4], [12.75, 19.9], [13.25, 21.3], [13.75, 18.6], [14.25, 21.0], [14.75, 22.4], [15.25, 19.5], [15.75, 22.2], [16.25, 23.7], [16.75, 21.0],
  [17.25, 23.4], [17.75, 25.0], [18.25, 22.4], [18.75, 24.6], [19.25, 26.1], [19.75, 23.0], [20.25, 25.2], [20.75, 26.0], [21.1, 24.2],
  [-7.3, 1.6], [-6.2, 2.2], [-5.7, 8.0], [-5.2, 2.9], [-4.7, 8.9], [-4.2, 3.6], [-3.7, 9.6], [-3.2, 4.3], [-2.7, 10.1], [-2.2, 5.0],
  [-1.7, 10.9], [-1.2, 5.8], [-0.7, 11.8], [-0.2, 6.4], [0.3, 12.5], [0.8, 7.3], [1.3, 13.4], [1.8, 8.0], [2.3, 14.1], [2.8, 8.7],
  [3.3, 14.9], [3.8, 9.4], [4.3, 15.8], [4.8, 10.1], [5.3, 16.5], [5.8, 10.9], [6.3, 17.3], [6.8, 11.8], [7.3, 18.2], [7.8, 12.4],
  [8.3, 18.9], [8.8, 13.3], [9.3, 19.8], [9.8, 14.2], [10.3, 20.7], [10.8, 15.0], [11.3, 21.4], [11.8, 15.9], [12.3, 22.3], [12.8, 16.7],
  [13.3, 23.1], [13.8, 17.6], [14.3, 24.0], [14.8, 18.3], [15.3, 24.8], [15.8, 19.2], [16.3, 25.5], [16.8, 20.1], [17.3, 25.8], [17.8, 21.0],
  [18.2, 26.3], [18.8, 21.9], [19.3, 22.5], [19.7, 25.1], [20.3, 23.2],
  [-7.6, 4.9], [-7.1, 6.4], [-7.1, 3.1], [-6.6, 5.7], [-6.6, 2.0], [-6.1, 7.3], [-6.1, 3.9], [-5.6, 6.5], [-5.6, 2.6], [-5.1, 8.1], [-5.1, 4.7],
  [-4.6, 7.35], [-4.6, 3.35], [-4.1, 9.0], [-4.1, 5.6], [-3.6, 8.2], [-3.6, 4.2], [-3.1, 9.8], [-3.1, 6.4], [-2.6, 9.0], [-2.6, 5.0],
  [-2.1, 10.6], [-2.1, 7.2], [-1.6, 9.85], [-1.6, 5.85], [-1.1, 11.5], [-1.1, 8.1], [-0.6, 10.7], [-0.6, 6.7], [-0.1, 12.3], [-0.1, 8.9],
  [0.4, 11.5], [0.4, 7.5], [0.9, 13.1], [0.9, 9.7], [1.4, 12.35], [1.4, 8.35], [1.9, 14.0], [1.9, 10.6], [2.4, 13.2], [2.4, 9.2],
  [2.9, 14.8], [2.9, 11.4], [3.4, 14.0], [3.4, 10.0], [3.9, 15.6], [3.9, 12.2], [4.4, 14.85], [4.4, 10.85], [4.9, 16.5], [4.9, 13.1],
  [5.4, 15.7], [5.4, 11.7], [5.9, 17.3], [5.9, 13.9], [6.4, 16.5], [6.4, 12.5], [6.9, 18.1], [6.9, 14.7], [7.4, 17.35], [7.4, 13.35],
  [7.9, 19.0], [7.9, 15.6], [8.4, 18.2], [8.4, 14.2], [8.9, 19.8], [8.9, 16.4], [9.4, 19.0], [9.4, 15.0], [9.9, 20.6], [9.9, 17.2],
  [10.4, 19.85], [10.4, 15.85], [10.9, 21.5], [10.9, 18.1], [11.4, 20.7], [11.4, 16.7], [11.9, 22.3], [11.9, 18.9], [12.4, 21.5], [12.4, 17.5],
  [12.9, 23.1], [12.9, 19.7], [13.4, 22.35], [13.4, 18.35], [13.9, 24.0], [13.9, 20.6], [14.4, 23.2], [14.4, 19.2], [14.9, 24.8], [14.9, 21.4],
  [15.4, 24.0], [15.4, 20.0], [15.9, 25.6], [15.9, 22.2], [16.4, 24.85], [16.4, 20.85], [16.9, 26.4], [16.9, 23.1], [17.4, 25.7], [17.4, 21.7],
  [17.9, 26.5], [17.9, 23.9], [18.4, 26.5], [18.4, 22.5], [18.9, 24.7], [18.9, 22.9], [19.4, 23.35], [19.9, 25.6], [19.9, 24.2], [20.4, 24.2], [20.9, 25.0],
];

// fitted relations, left panel
const leftFitX = [-15, 30];
const leftFitY = [-12.35, 26.3];
const leftEmersonX = [-5.3, 0, 5, 10, 15, 20, 24.6];
const leftEmersonY = [-3.9, 0.5, 4.85, 9.15, 13.5, 17.8, 21.8];

// fitted relations, right panel
const rightFitX = [-15, 25];
const rightFitY = [-3.12, 30.2];
const bandX = [-15, 30];
const bandUpper = [1.2, 38.7];
const bandLower = [-7.4, 30.1];
const rightEmersonX = [-15, -12.5, -10, -7.5, -5, -2.85, -0.5, 1.2, 4.85, 8.3, 10.8, 13.2, 15.1, 17.5];
const rightEmersonY = [-7.0, -5.9, -4.5, -2.7, -0.6, 1.25, 3.2, 4.55, 7.85, 11.3, 14.0, 16.4, 18.5, 21.4];

// design trace: ambient min -> lower 95% bound -> VZ fit -> bridge min
const traceLevel = 4.05;
const bridgeMinAtTrace = 4.5;
const ambientMinAtTrace = -1.42;
const leftHeadDownY = -13.96;
const leftHeadAcrossX = 5.7;
const rightHeadUpY = 2.82;
const leftTraceRunout = 32.5;
const rightTraceRunout = -17.5;
const TRACE_DASH = [62, 8, 14, 8];
const EMERSON_DASH = [34, 15];

const POINT_RADIUS = 6.5;
const TITLE_SIZE = 34;
const TITLE_STRETCH = 1.065;

const toXY = (pairs: Pt[]) => pairs.map(([x, y]) => ({ x, y }));
const zipXY = (xs: number[], ys: number[]) => xs.map((x, i) => ({ x, y: ys[i] }));

function makeStar(): HTMLCanvasElement {
  const c = document.createElement('canvas');
  c.width = 52;
  c.height = 52;
  const g = c.getContext('2d')!;
  g.beginPath();
  for (let i = 0; i < 10; i++) {
    const r = i % 2 === 0 ? 24 : 10.5;
    const a = -Math.PI / 2 + (i * Math.PI) / 5;
    g.lineTo(26 + r * Math.cos(a), 27 + r * Math.sin(a));
  }
  g.closePath();
  g.fillStyle = STAR_GREEN;
  g.fill();
  return c;
}

function axis(position: string, isX: boolean, widthOrHeight: number) {
  return {
    type: 'linear',
    position,
    min: AXIS_MIN,
    max: AXIS_MAX,
    ticks: {
      stepSize: AXIS_STEP,
      autoSkip: false,
      maxRotation: 0,
      minRotation: 0,
      font: { family: FONT, size: 27.5 },
      color: TICK_INK,
      padding: isX ? 13 : 17,
    },
    grid: { color: INK, lineWidth: 2.5, tickLength: 15, drawTicks: true },
    border: { color: INK, width: 2.5 },
    title: { display: false },
    afterFit: (s: any) => {
      if (isX) s.height = widthOrHeight;
      else s.width = widthOrHeight;
      // the plot frame is fixed by the layout padding alone
      s.paddingTop = 0;
      s.paddingBottom = 0;
      s.paddingLeft = 0;
      s.paddingRight = 0;
    },
  };
}

// axis titles are set a little wide and may run past the plot width
function makeAxisTitles(xTitle: string, side: 'left' | 'right') {
  return {
    id: 'axisTitles',
    afterDraw(chart: any) {
      const { ctx, chartArea } = chart;
      const put = (text: string, x: number, y: number, rot: number) => {
        ctx.save();
        ctx.translate(x, y);
        ctx.rotate(rot);
        ctx.scale(TITLE_STRETCH, 1);
        ctx.font = `bold ${TITLE_SIZE}px ${FONT}`;
        ctx.fillStyle = INK;
        ctx.textAlign = 'center';
        ctx.textBaseline = 'middle';
        ctx.fillText(text, 0, 0);
        ctx.restore();
      };
      put(xTitle, (chartArea.left + chartArea.right) / 2, chart.height - 20, 0);
      const yMid = (chartArea.top + chartArea.bottom) / 2;
      put(Y_TITLE, side === 'left' ? 31 : chart.width - 34, yMid, -Math.PI / 2);
    },
  };
}

type LegendBox = { corner: 'tl' | 'br'; dx: number; dy: number; width: number; height: number; firstRow: number; rowGap: number };

function makeLegend(box: LegendBox) {
  return {
    id: 'panelLegend',
    afterDatasetsDraw(chart: any) {
      const { ctx, chartArea } = chart;
      const x0 = box.corner === 'tl' ? chartArea.left + box.dx : chartArea.right - box.dx - box.width;
      const y0 = box.corner === 'tl' ? chartArea.top + box.dy : chartArea.bottom - box.dy - box.height;
      ctx.save();
      ctx.beginPath();
      ctx.roundRect(x0, y0, box.width, box.height, 6);
      ctx.fillStyle = '#ffffff';
      ctx.fill();
      ctx.lineWidth = 2;
      ctx.strokeStyle = '#5a5a5a';
      ctx.stroke();
      const entries = chart.data.datasets.filter((d: any) => d.legendKind);
      entries.forEach((d: any, i: number) => {
        const cy = y0 + box.firstRow + i * box.rowGap;
        const sx = x0 + 10;
        const sw = 67;
        if (d.legendKind === 'point') {
          ctx.beginPath();
          ctx.arc(sx + sw / 2, cy, 6.5, 0, Math.PI * 2);
          ctx.fillStyle = d.backgroundColor;
          ctx.fill();
        } else if (d.legendKind === 'line') {
          ctx.beginPath();
          ctx.setLineDash(d.borderDash || []);
          ctx.lineWidth = d.borderWidth;
          ctx.strokeStyle = d.borderColor;
          ctx.lineCap = 'butt';
          ctx.moveTo(sx, cy);
          ctx.lineTo(sx + sw, cy);
          ctx.stroke();
          ctx.setLineDash([]);
        } else if (d.legendKind === 'box') {
          ctx.fillStyle = d.legendSwatch;
          ctx.fillRect(sx, cy - 11, sw, 22);
        }
        ctx.save();
        ctx.translate(x0 + 102, cy + 1);
        ctx.scale(1.13, 1);
        ctx.fillStyle = '#222222';
        ctx.font = `27px ${FONT}`;
        ctx.textBaseline = 'middle';
        ctx.textAlign = 'left';
        ctx.fillText(d.label, 0, 0);
        ctx.restore();
      });
      ctx.restore();
    },
  };
}

const lineDefaults = { pointRadius: 0, borderColor: '#000000', tension: 0 };
const traceStyle = { pointRadius: 0, borderColor: TRACE_RED, borderWidth: 6, borderDash: TRACE_DASH, borderCapStyle: 'butt' };
const pointStyleBlue = {
  showLine: false,
  pointRadius: POINT_RADIUS,
  pointBackgroundColor: DATA_BLUE,
  backgroundColor: DATA_BLUE,
  pointBorderWidth: 0,
  borderWidth: 0,
};

export default function App() {
  const leftRef = useRef<HTMLCanvasElement | null>(null);
  const rightRef = useRef<HTMLCanvasElement | null>(null);

  useEffect(() => {
    if (!leftRef.current || !rightRef.current) return;
    const star = makeStar();

    const left = new Chart(leftRef.current, {
      type: 'line',
      data: {
        datasets: [
          { label: LEGEND_DATA, legendKind: 'point', data: toXY(leftPoints), ...pointStyleBlue, order: 10 },
          { label: LEGEND_FIT, legendKind: 'line', data: zipXY(leftFitX, leftFitY), ...lineDefaults, borderWidth: 3, order: 5 },
          {
            label: LEGEND_EMERSON,
            legendKind: 'line',
            data: zipXY(leftEmersonX, leftEmersonY),
            ...lineDefaults,
            borderWidth: 8,
            borderDash: EMERSON_DASH,
            order: 4,
          },
          {
            label: 'trace down',
            data: [
              { x: bridgeMinAtTrace, y: traceLevel },
              { x: bridgeMinAtTrace, y: leftHeadDownY },
            ],
            ...traceStyle,
            order: 3,
          },
          {
            label: 'trace across',
            data: [
              { x: bridgeMinAtTrace, y: traceLevel },
              { x: leftTraceRunout, y: traceLevel },
            ],
            ...traceStyle,
            clip: false,
            order: 3,
          },
          {
            label: 'bridge minimum',
            data: [{ x: bridgeMinAtTrace, y: AXIS_MIN }],
            showLine: false,
            pointStyle: star,
            pointRadius: 24,
            clip: false,
            order: 2,
          },
          {
            label: 'trace heads',
            data: [
              { x: bridgeMinAtTrace, y: leftHeadDownY },
              { x: leftHeadAcrossX, y: traceLevel },
            ],
            showLine: false,
            pointStyle: 'triangle',
            pointRadius: 15,
            pointRotation: [180, 270],
            pointBackgroundColor: TRACE_RED,
            pointBorderColor: TRACE_RED,
            pointBorderWidth: 1,
            clip: false,
            order: 1,
          },
        ] as any,
      },
      options: {
        responsive: false,
        animation: false,
        events: [],
        layout: { padding: { top: 22, right: 34, left: 0, bottom: 0 } },
        plugins: { legend: { display: false }, tooltip: { enabled: false } },
        scales: {
          x: axis('bottom', true, 113),
          y: axis('left', false, 146),
        } as any,
      },
      plugins: [
        makeLegend({ corner: 'tl', dx: 17, dy: 16, width: 384, height: 147, firstRow: 23.5, rowGap: 46 }),
        makeAxisTitles(LEFT_X_TITLE, 'left'),
      ],
    });

    const right = new Chart(rightRef.current, {
      type: 'line',
      data: {
        datasets: [
          { label: LEGEND_DATA, legendKind: 'point', data: toXY(rightPoints), ...pointStyleBlue, order: 10 },
          { label: LEGEND_FIT, legendKind: 'line', data: zipXY(rightFitX, rightFitY), ...lineDefaults, borderWidth: 3, order: 5 },
          {
            label: LEGEND_BAND,
            legendKind: 'box',
            legendSwatch: BAND_SWATCH,
            data: zipXY(bandX, bandUpper),
            pointRadius: 0,
            borderWidth: 0,
            borderColor: 'rgba(0,0,0,0)',
            backgroundColor: BAND_FILL,
            fill: '+1',
            order: 8,
          },
          {
            label: 'band lower',
            data: zipXY(bandX, bandLower),
            pointRadius: 0,
            borderWidth: 0,
            borderColor: 'rgba(0,0,0,0)',
            fill: false,
            order: 9,
          },
          {
            label: LEGEND_EMERSON,
            legendKind: 'line',
            data: zipXY(rightEmersonX, rightEmersonY),
            ...lineDefaults,
            cubicInterpolationMode: 'monotone',
            borderWidth: 8,
            borderDash: EMERSON_DASH,
            order: 4,
          },
          {
            label: 'trace up',
            data: [
              { x: ambientMinAtTrace, y: AXIS_MIN },
              { x: ambientMinAtTrace, y: traceLevel },
            ],
            ...traceStyle,
            order: 3,
          },
          {
            label: 'trace across',
            data: [
              { x: rightTraceRunout, y: traceLevel },
              { x: ambientMinAtTrace, y: traceLevel },
            ],
            ...traceStyle,
            clip: false,
            order: 3,
          },
          {
            label: 'trace head',
            data: [{ x: ambientMinAtTrace, y: rightHeadUpY }],
            showLine: false,
            pointStyle: 'triangle',
            pointRadius: 15,
            pointRotation: 0,
            pointBackgroundColor: TRACE_RED,
            pointBorderColor: TRACE_RED,
            pointBorderWidth: 1,
            order: 1,
          },
        ] as any,
      },
      options: {
        responsive: false,
        animation: false,
        events: [],
        layout: { padding: { top: 22, right: 0, left: 34, bottom: 0 } },
        plugins: { legend: { display: false }, tooltip: { enabled: false } },
        scales: {
          x: axis('bottom', true, 113),
          y: axis('right', false, 147),
        } as any,
      },
      plugins: [
        makeLegend({ corner: 'br', dx: 14, dy: 17, width: 384, height: 191, firstRow: 25, rowGap: 45.7 }),
        makeAxisTitles(RIGHT_X_TITLE, 'right'),
      ],
    });

    return () => {
      left.destroy();
      right.destroy();
    };
  }, []);

  return (
    <div style={{ position: 'absolute', left: 0, top: 0, width: 1923, height: 1045, background: '#ffffff' }}>
      <canvas ref={leftRef} width={962} height={1045} style={{ position: 'absolute', left: 0, top: 0 }} />
      <canvas ref={rightRef} width={961} height={1045} style={{ position: 'absolute', left: 962, top: 0 }} />
    </div>
  );
}
